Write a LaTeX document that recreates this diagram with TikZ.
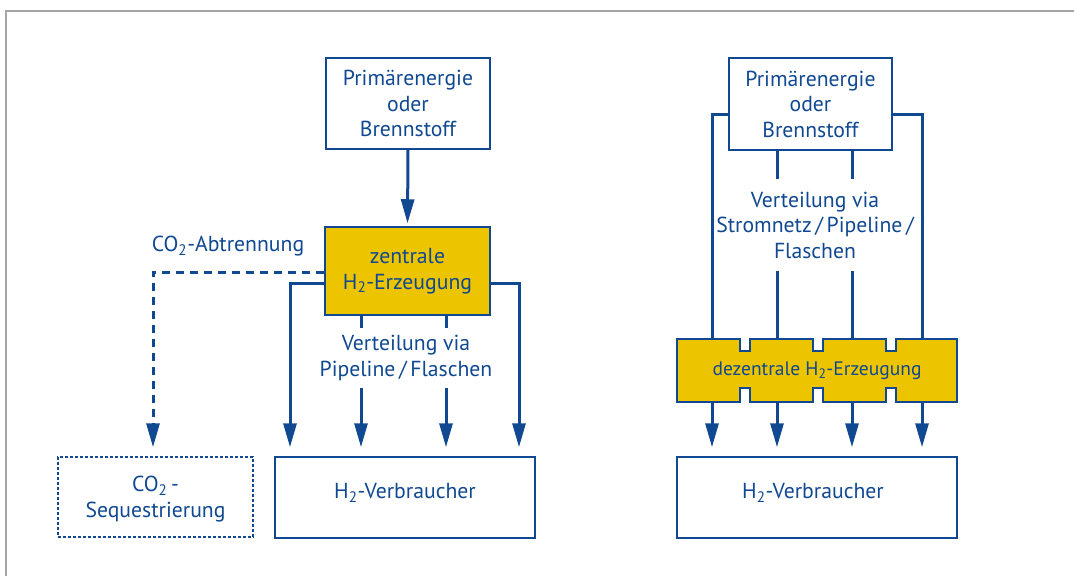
\documentclass[tikz,border=0pt]{standalone}
\usepackage{fontspec}
\setmainfont{PT Sans}
\usetikzlibrary{arrows.meta,calc}
\definecolor{dblue}{RGB}{16,72,145}
\definecolor{dyellow}{RGB}{236,196,0}
\definecolor{fgray}{RGB}{165,165,165}
\begin{document}
\begin{tikzpicture}[x=1pt,y=-1pt,
  txt/.style={text=dblue,align=center,font=\fontsize{21.7}{25.5}\selectfont,inner sep=0pt},
  box/.style={txt,draw=dblue,line width=1.5pt},
  conn/.style={draw=dblue,line width=3pt},
  arr/.style={conn,-{Triangle[length=24pt,width=13pt]},shorten >=9pt},
  dconn/.style={conn,dash pattern=on 8pt off 6pt},
  frame/.style={draw=fgray,line width=1.3pt}]
\useasboundingbox (0,0) rectangle (1074,576);
\draw[frame] (1074,11) -- (6,11) -- (6,576);

% ---------- left diagram ----------
\node[box,minimum width=164,minimum height=91] (pL) at (408,103.5) {Primärenergie\\oder\\Brennstoff};
\node[box,fill=dyellow,minimum width=165,minimum height=88] (zL) at (407.5,271) {zentrale\\H\textsubscript{2}-Erzeugung};
\node[box,minimum width=260,minimum height=81] (hL) at (405,497.5) {};
\node[txt] (hLt) at (405,493) {H\textsubscript{2}-Verbraucher};
\node[box,dash pattern=on 3pt off 2pt,minimum width=195,minimum height=80] (sL) at (155.5,497) {};
\node[txt] (sLt) at (155.5,499) {CO\textsubscript{2}\,-\\Sequestrierung};
\node[txt] (aL) at (228,246) {CO\textsubscript{2}-Abtrennung};
\node[txt,minimum height=60] (tL) at (406,358) {Verteilung via\\Pipeline\,/\,Flaschen};

\draw[arr,shorten >=3pt] (pL.south) -- (zL.north);
\draw[arr] ($(zL.west)+(0,12)$) -| (290,0 |- hL.north);
\draw[arr] ($(zL.east)+(0,12)$) -| (519,0 |- hL.north);
\draw[conn] (361,0 |- zL.south) -- (361,0 |- tL.north);
\draw[conn] (446,0 |- zL.south) -- (446,0 |- tL.north);
\draw[arr] (361,0 |- tL.south) -- (361,0 |- hL.north);
\draw[arr] (446,0 |- tL.south) -- (446,0 |- hL.north);
\draw[arr,dconn] ($(zL.west)+(0,1)$) -| (153,0 |- sL.north);

% ---------- right diagram ----------
\node[box,minimum width=163,minimum height=92] (pR) at (810.5,104) {Primärenergie\\oder\\Brennstoff};
\node[txt,minimum height=92] (tR) at (815,225) {Verteilung via\\Stromnetz\,/\,Pipeline\,/\\Flaschen};
\path[fill=dyellow,draw=dblue,line width=1.5pt]
  (677,339) -- (740,339) -- (740,351) -- (750,351) -- (750,339)
  -- (813,339) -- (813,351) -- (823,351) -- (823,339)
  -- (886,339) -- (886,351) -- (896,351) -- (896,339) -- (957,339)
  -- (957,402) -- (896,402) -- (896,388) -- (886,388) -- (886,402)
  -- (823,402) -- (823,388) -- (813,388) -- (813,402)
  -- (750,402) -- (750,388) -- (740,388) -- (740,402) -- (677,402) -- cycle;
\node[txt,minimum width=280,minimum height=63,font=\fontsize{19.5}{23}\selectfont] (dR) at (817,370.5) {dezentrale H\textsubscript{2}-Erzeugung};
\node[box,minimum width=280,minimum height=81] (hR) at (817,497.5) {};
\node[txt] (hRt) at (813,493) {H\textsubscript{2}-Verbraucher};

\draw[conn] ($(pR.west)+(0,10)$) -| (712,0 |- dR.north);
\draw[conn] ($(pR.east)+(0,10)$) -| (922,0 |- dR.north);
\draw[conn] (777,0 |- pR.south) -- (777,0 |- tR.north);
\draw[conn] (852,0 |- pR.south) -- (852,0 |- tR.north);
\draw[conn] (777,0 |- tR.south) -- (777,0 |- dR.north);
\draw[conn] (852,0 |- tR.south) -- (852,0 |- dR.north);
\foreach \x in {712,777,852,922}
  \draw[arr] (\x,0 |- dR.south) -- (\x,0 |- hR.north);
\end{tikzpicture}
\end{document}
